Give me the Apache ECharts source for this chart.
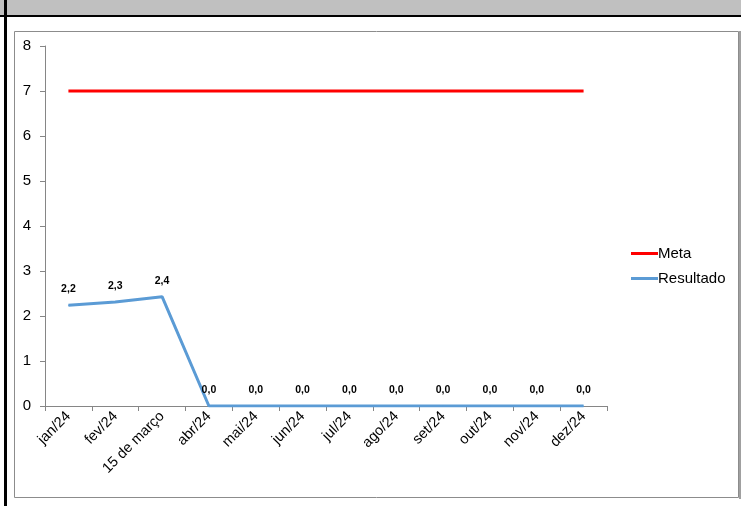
<!DOCTYPE html>
<html><head><meta charset="utf-8">
<script src="https://cdn.jsdelivr.net/npm/echarts@6/dist/echarts.min.js"></script>
<style>html,body{margin:0;padding:0;background:#fff}#c{width:741px;height:506px}</style>
</head><body><div id="c"></div>
<script>
const categories = ['jan/24','fev/24','15 de março','abr/24','mai/24','jun/24','jul/24','ago/24','set/24','out/24','nov/24','dez/24'];
const meta = [7,7,7,7,7,7,7,7,7,7,7,7];
const resultado = [2.24,2.31,2.43,0,0,0,0,0,0,0,0,0];
const yTicks = [0,1,2,3,4,5,6,7,8];

const chart = echarts.init(document.getElementById('c'), null, {renderer:'canvas'});
const font = 'Liberation Sans, Arial, sans-serif';
chart.setOption({
  animation:false,
  graphic:[
    {type:'rect', shape:{x:0,y:0,width:741,height:15}, style:{fill:'#c0c0c0'}, silent:true},
    {type:'rect', shape:{x:0,y:15,width:741,height:2}, style:{fill:'#000'}, silent:true},
    {type:'rect', shape:{x:4,y:0,width:3,height:506}, style:{fill:'#000'}, silent:true},
    {type:'rect', shape:{x:14.5,y:31.5,width:724,height:466}, style:{fill:'none',stroke:'#8c8c8c',lineWidth:1}, silent:true},
    {type:'rect', shape:{x:739,y:31,width:2,height:468}, style:{fill:'#a0a0a0'}, silent:true}
  ],
  grid:{left:45,right:134,top:46,bottom:100,containLabel:false},
  legend:{
    orient:'vertical', left:626, top:241, itemGap:10,
    itemWidth:27, itemHeight:3,
    icon:'rect',
    textStyle:{fontFamily:font,fontSize:15,color:'#000',padding:[0,0,0,-5]},
    data:['Meta','Resultado']
  },
  xAxis:{
    type:'category', data:categories, boundaryGap:true,
    axisLine:{lineStyle:{color:'#868686',width:1}},
    axisTick:{show:true,length:5,lineStyle:{color:'#868686'}},
    axisLabel:{rotate:45,fontFamily:font,fontSize:14.5,color:'#000',margin:8,interval:0}
  },
  yAxis:{
    type:'value', min:0, max:8, interval:1,
    splitLine:{show:false},
    axisLine:{show:true,lineStyle:{color:'#868686',width:1}},
    axisTick:{show:true,length:5,lineStyle:{color:'#868686'}},
    axisLabel:{fontFamily:font,fontSize:15,color:'#000',margin:14,
      formatter:v=>yTicks.includes(v)?String(v):''}
  },
  series:[
    {name:'Meta',type:'line',data:meta,symbol:'none',
     lineStyle:{color:'#ff0000',width:3},itemStyle:{color:'#ff0000'}},
    {name:'Resultado',type:'line',data:resultado,symbol:'circle',symbolSize:1,showSymbol:true,
     lineStyle:{color:'#5b9bd5',width:3},itemStyle:{color:'#5b9bd5'},
     label:{show:true,position:'top',distance:10,fontFamily:font,fontSize:10.5,fontWeight:'bold',color:'#000',
       formatter:p=>p.value.toFixed(1).replace('.',',')}}
  ]
});
</script></body></html>
